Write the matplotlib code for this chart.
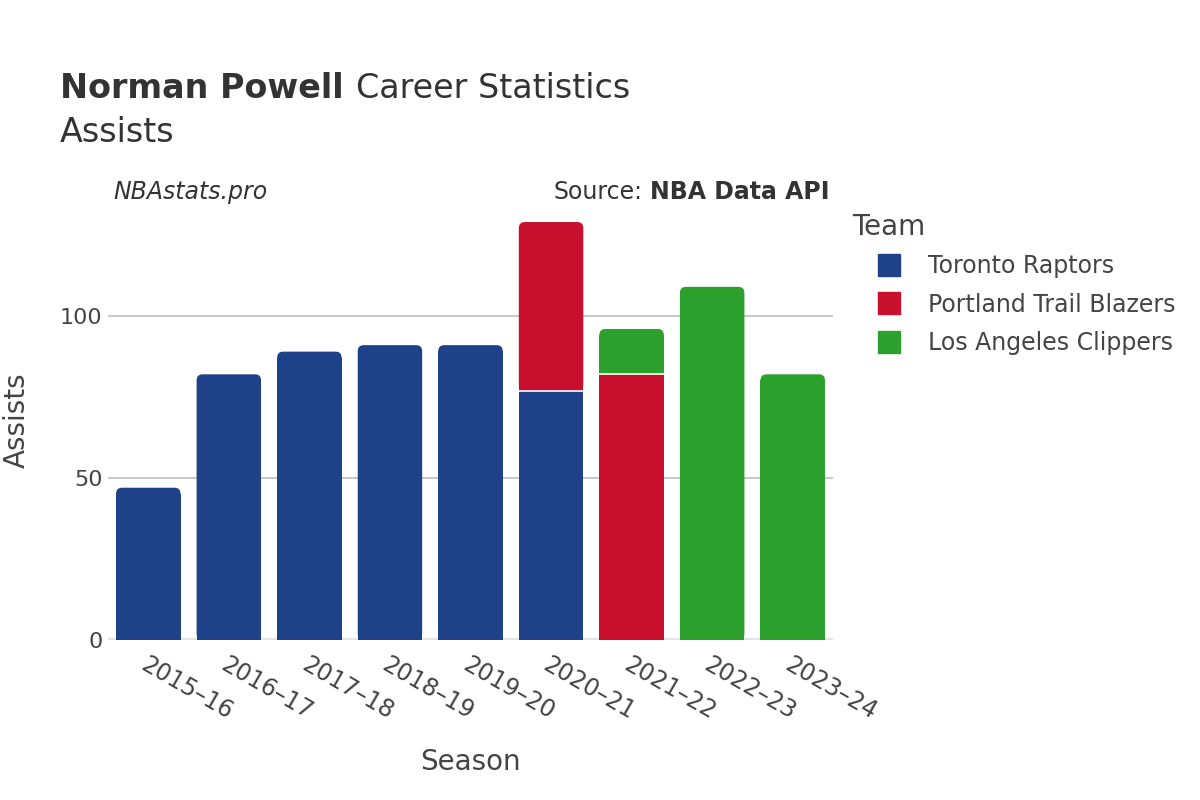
import numpy as np
import matplotlib
matplotlib.use("Agg")
import matplotlib.pyplot as plt
from matplotlib.lines import Line2D
from matplotlib.patches import FancyBboxPatch

seasons = ["2015–16", "2016–17", "2017–18", "2018–19", "2019–20",
           "2020–21", "2021–22", "2022–23", "2023–24"]
teams = ["Toronto Raptors", "Portland Trail Blazers", "Los Angeles Clippers"]
toronto = [47, 82, 89, 91, 91, 77, 0, 0, 0]
portland = [0, 0, 0, 0, 0, 52, 82, 0, 0]
clippers = [0, 0, 0, 0, 0, 0, 14, 109, 82]
colors = ["#1d428a", "#c8102e", "#2ca02c"]

TEXT = "#444444"
DARK = "#333333"
W, H = 1200, 800

fig = plt.figure(figsize=(12, 8), dpi=100)
ax_l, ax_b, ax_w, ax_h = 108 / W, 160 / H, 725 / W, 440 / H
ax = fig.add_axes([ax_l, ax_b, ax_w, ax_h])

x = np.arange(len(seasons))
ymax = 135.8
ax.set_xlim(-0.5, len(seasons) - 0.5)
ax.set_ylim(0, ymax)

# data units per pixel, used for the rounded bar tops
px_x = len(seasons) / (ax_w * W)
px_y = ymax / (ax_h * H)
r = 6

series = [toronto, portland, clippers]
totals = np.sum(series, axis=0)
bottom = np.zeros(len(seasons))
for vals, col in zip(series, colors):
    vals = np.array(vals, dtype=float)
    bars = ax.bar(x, vals, width=0.8, bottom=bottom, color=col,
                  edgecolor="none", zorder=3)
    for i, b in enumerate(bars):
        if vals[i] == 0:
            continue
        bx, by, bw, bh = b.get_x(), b.get_y(), b.get_width(), b.get_height()
        if by + bh == totals[i]:
            # top segment: square body plus a rounded cap
            b.set_height(bh - r * px_y)
            rx, ry = r * px_x, r * px_y
            cap = FancyBboxPatch((bx + rx, by + ry), bw - 2 * rx, bh - 2 * ry,
                                 boxstyle=f"round,pad={rx},rounding_size={rx}",
                                 mutation_aspect=px_y / px_x,
                                 facecolor=col, edgecolor="none", zorder=3)
            ax.add_patch(cap)
        if by > 0:
            ax.plot([bx, bx + bw], [by, by], color="white", lw=1.2,
                    solid_capstyle="butt", zorder=4)
    bottom += vals

ax.set_yticks([0, 50, 100])
ax.yaxis.grid(True, color="#c4c4c4", linewidth=1.3, zorder=0)
ax.axhline(0, color="#e4e4e4", linewidth=3, zorder=2)
for s in ax.spines.values():
    s.set_visible(False)
ax.tick_params(axis="y", length=0, labelsize=16, labelcolor=TEXT, pad=4)
ax.set_xticks(x)
ax.set_xticklabels(seasons, rotation=-30, ha="left", va="top",
                   rotation_mode="anchor")
ax.tick_params(axis="x", length=0, labelsize=17, labelcolor=TEXT, pad=9)
ax.set_xlabel("Season", fontsize=20, color=TEXT, labelpad=17)
ax.yaxis.set_label_coords(-(108 - 17) / (ax_w * W), 0.5)
ax.set_ylabel("Assists", fontsize=20, color=TEXT, va="center")

# titles
renderer = fig.canvas.get_renderer()
t1 = fig.text(60 / W, 1 - 88 / H, "Norman Powell", fontsize=24,
              fontweight="bold", color=DARK, ha="left", va="center")
bb = t1.get_window_extent(renderer)
fig.text((bb.x1 + 12) / W, 1 - 88 / H, "Career Statistics", fontsize=24,
         color=DARK, ha="left", va="center")
fig.text(60 / W, 1 - 132 / H, "Assists", fontsize=24, color=DARK,
         ha="left", va="center")
fig.text(113 / W, 1 - 192 / H, "NBAstats.pro", fontsize=17, style="italic",
         color=DARK, ha="left", va="center")
t2 = fig.text(830 / W, 1 - 192 / H, "NBA Data API", fontsize=17,
              fontweight="bold", color=DARK, ha="right", va="center")
bb2 = t2.get_window_extent(renderer)
fig.text((bb2.x0 - 8) / W, 1 - 192 / H, "Source:", fontsize=17, color=DARK,
         ha="right", va="center")

# legend
fig.text(852 / W, 1 - 227 / H, "Team", fontsize=20, color=TEXT,
         ha="left", va="center")
handles = [Line2D([0], [0], marker="s", linestyle="none", markersize=16,
                  markerfacecolor=c, markeredgecolor=c) for c in colors]
leg = fig.legend(handles, teams, loc="upper left",
                 bbox_to_anchor=(865 / W, 1 - 254 / H),
                 frameon=False, fontsize=17, labelspacing=0.62,
                 handlelength=2.0, handletextpad=0.68,
                 borderaxespad=0, borderpad=0)
for t in leg.get_texts():
    t.set_color(TEXT)

fig.savefig("out.png", dpi=100)
